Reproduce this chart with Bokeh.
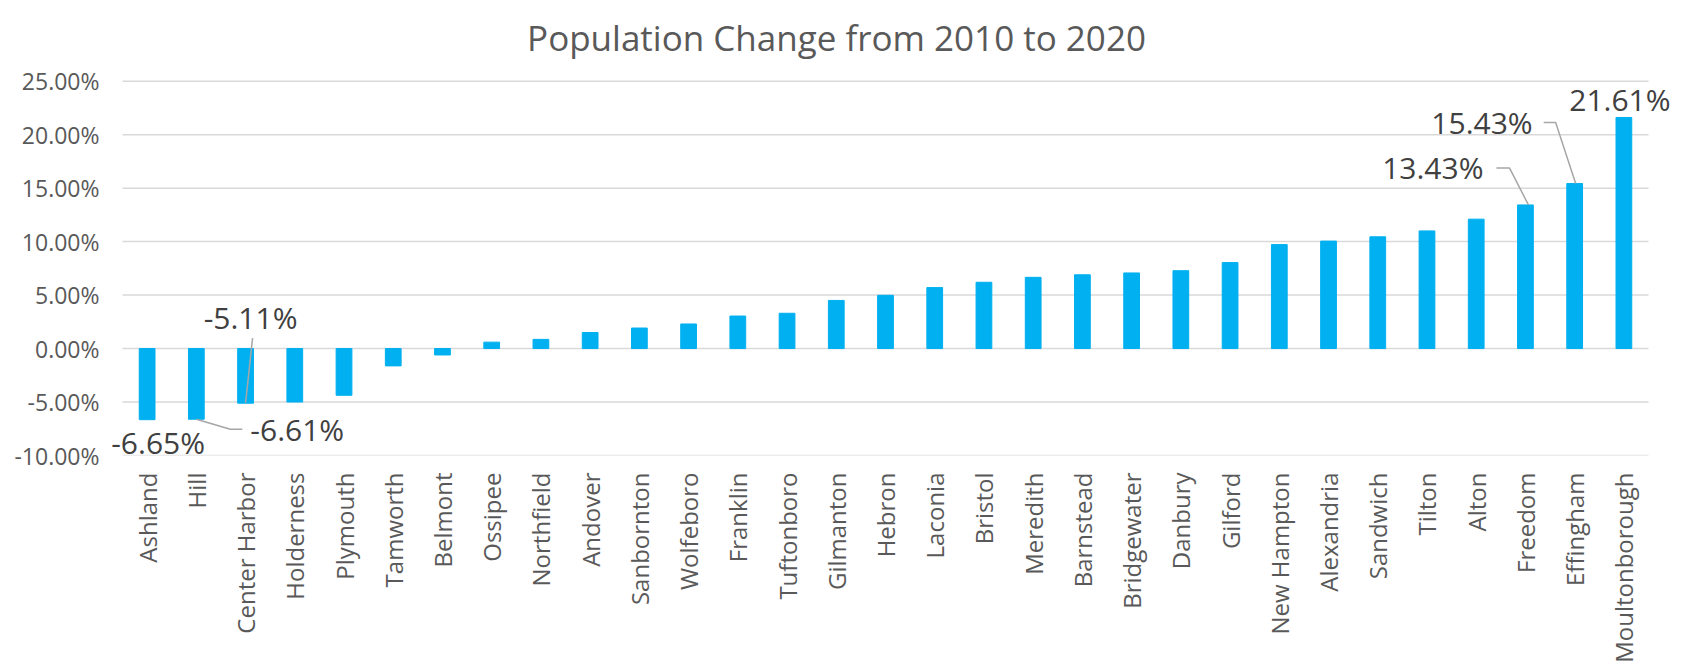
import math
from bokeh.plotting import figure
from bokeh.models import Range1d, FixedTicker, PrintfTickFormatter, CustomJSTickFormatter, Label
from bokeh.embed import file_html
from bokeh.resources import INLINE

# ---- data ----
towns = ["Ashland", "Hill", "Center Harbor", "Holderness", "Plymouth", "Tamworth",
         "Belmont", "Ossipee", "Northfield", "Andover", "Sanbornton", "Wolfeboro",
         "Franklin", "Tuftonboro", "Gilmanton", "Hebron", "Laconia", "Bristol",
         "Meredith", "Barnstead", "Bridgewater", "Danbury", "Gilford", "New Hampton",
         "Alexandria", "Sandwich", "Tilton", "Alton", "Freedom", "Effingham",
         "Moultonborough"]
pct = [-6.65, -6.61, -5.11, -5.00, -4.37, -1.62, -0.60, 0.60, 0.86, 1.50, 1.92,
       2.30, 3.04, 3.30, 4.50, 4.98, 5.70, 6.20, 6.66, 6.90, 7.07, 7.28, 8.04,
       9.72, 10.05, 10.45, 11.00, 12.10, 13.43, 15.43, 21.61]
y_ticks = [-10, -5, 0, 5, 10, 15, 20, 25]
labelled = ["Ashland", "Hill", "Center Harbor", "Freedom", "Effingham", "Moultonborough"]
title = "Population Change from 2010 to 2020"

# ---- layout / style (pixels) ----
W, H = 1681, 671
FL, FR, FT, FB = 106, 1678, 0, 455          # drawing frame edges
PL, PR, PT, PB = 122, 1648, 80.7, 455       # plot-area (gridline) edges
FONT = "Open Sans"
n = len(towns)
px_cat = (PR - PL) / n
px_pct = (PB - PT) / (y_ticks[-1] - y_ticks[0])
x0 = -(PL - FL) / px_cat
y1 = y_ticks[-1] + (PT - FT) / px_pct


def sx(px):  # screen px -> data x
    return x0 + (px - FL) / px_cat


def sy(py):  # screen px -> data y
    return y1 - (py - FT) / px_pct


# label placement: text offset (px, screen y down), alignment, leader path offsets
callouts = {
    "Ashland": ((11, 23), "center", None),
    "Hill": ((54, 10), "left", [(0, 0), (34, 10), (46, 10)]),
    "Center Harbor": ((5, -86), "center", [(0, 0), (7, -65)]),
    "Freedom": ((-42, -37), "right", [(3, 0), (-16, -37), (-29, -37)]),
    "Effingham": ((-42, -61), "right", [(1, 0), (-19, -61), (-31, -61)]),
    "Moultonborough": ((-4, -18), "center", None),
}

p = figure(width=W, height=H,
           x_range=Range1d(x0, n + (FR - PR) / px_cat),
           y_range=Range1d(y_ticks[0], y1),
           output_backend="svg", toolbar_location=None,
           min_border_left=FL, min_border_right=W - FR,
           min_border_top=FT, min_border_bottom=H - FB)
p.title.visible = False
p.outline_line_color = None
p.background_fill_color = "white"
p.border_fill_color = "white"

# gridlines limited to the plot area
p.segment(x0=[0] * len(y_ticks), x1=[n] * len(y_ticks), y0=y_ticks, y1=y_ticks,
          line_color="#d9d9d9", line_width=1.5)

xs = [i + 0.5 for i in range(n)]
p.vbar(x=xs, top=pct, width=0.32, color="#00B0F0")

# axes
p.yaxis.ticker = FixedTicker(ticks=y_ticks)
p.yaxis.formatter = PrintfTickFormatter(format="%.2f%%")
p.yaxis.axis_line_color = None
p.yaxis.major_tick_line_color = None
p.yaxis.minor_tick_line_color = None
p.yaxis.major_tick_out = 0
p.yaxis.major_tick_in = 0
p.yaxis.major_label_standoff = PL - FL - 16 + 7
p.yaxis.major_label_text_font = FONT
p.yaxis.major_label_text_font_size = "23px"
p.yaxis.major_label_text_color = "#595959"

p.xaxis.ticker = FixedTicker(ticks=xs)
p.xaxis.formatter = CustomJSTickFormatter(args=dict(names=towns),
                                          code="return names[Math.floor(tick)] || ''")
p.xaxis.axis_line_color = None
p.xaxis.major_tick_line_color = None
p.xaxis.minor_tick_line_color = None
p.xaxis.major_tick_out = 0
p.xaxis.major_tick_in = 0
p.xaxis.major_label_orientation = math.pi / 2
p.xaxis.major_label_standoff = 17
p.xaxis.major_label_text_font = FONT
p.xaxis.major_label_text_font_size = "24px"
p.xaxis.major_label_text_color = "#595959"

p.xgrid.grid_line_color = None
p.ygrid.grid_line_color = None

# title
p.add_layout(Label(x=sx(836), y=sy(37), text=title, text_align="center",
                   text_baseline="alphabetic", text_font=FONT,
                   text_font_size="35px", text_color="#595959"))

# data labels with leader lines
for town in labelled:
    i = towns.index(town)
    v = pct[i]
    cx = i + 0.5
    (dx, dy), align, path = callouts[town]
    if path:
        p.line(x=[cx + a / px_cat for a, b in path],
               y=[v - b / px_pct for a, b in path],
               line_color="#a6a6a6", line_width=1.5)
    p.add_layout(Label(x=cx + dx / px_cat, y=v - dy / px_pct, text=f"{v:.2f}%",
                       text_font=FONT, text_font_size="30px", text_color="#404040",
                       text_align=align, text_baseline="middle"))

open("out.html", "w").write(file_html(p, INLINE))
